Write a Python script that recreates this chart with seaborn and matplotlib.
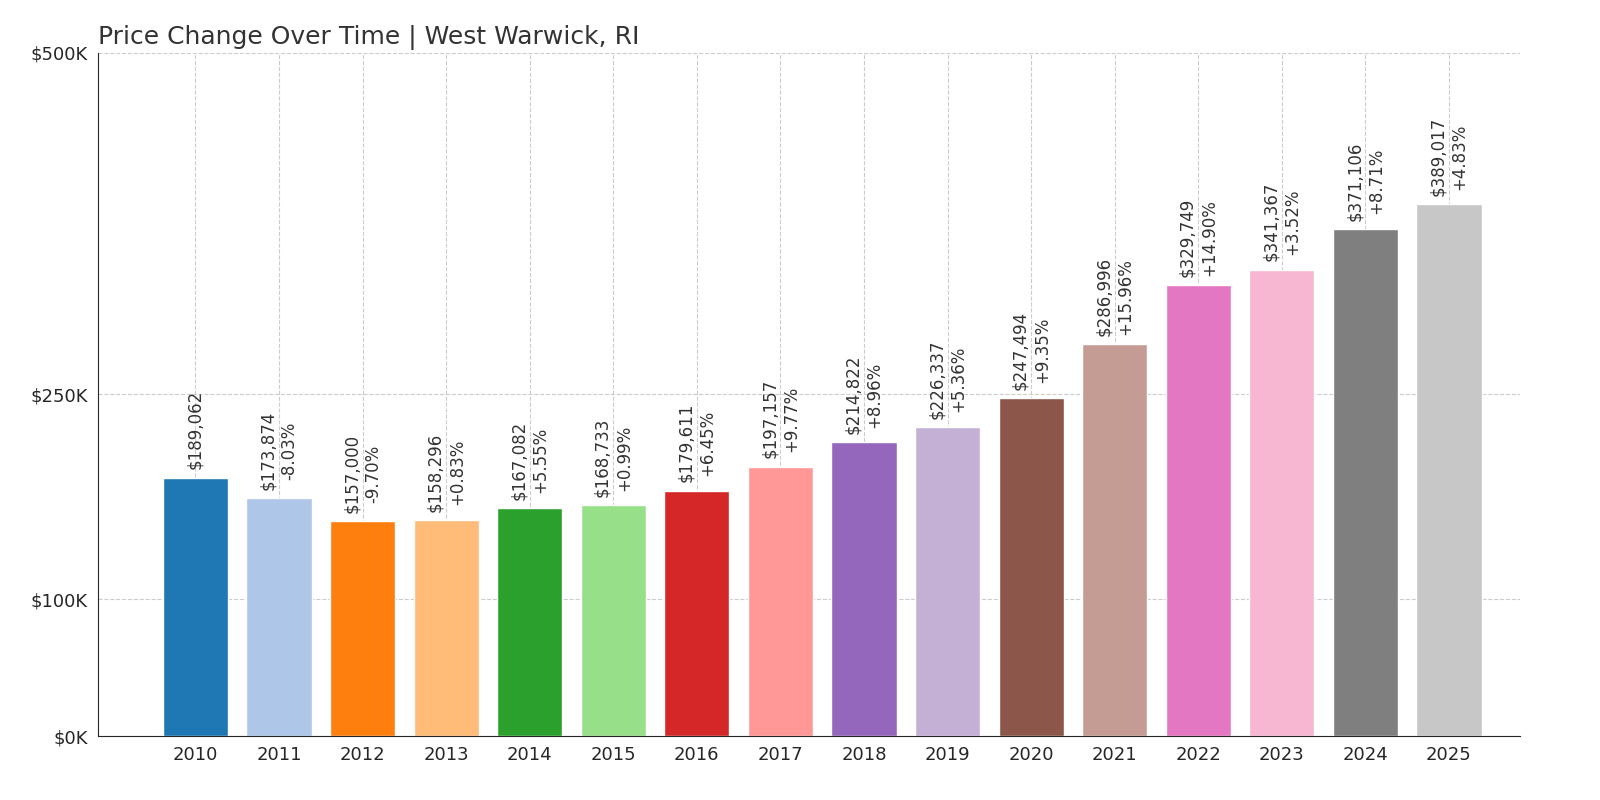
import matplotlib
matplotlib.use('Agg')
import matplotlib.pyplot as plt
import seaborn as sns
import pandas as pd

years = [str(y) for y in range(2010, 2026)]
prices = [189062, 173874, 157000, 158296, 167082, 168733, 179611, 197157,
          214822, 226337, 247494, 286996, 329749, 341367, 371106, 389017]
changes = [None, '-8.03%', '-9.70%', '+0.83%', '+5.55%', '+0.99%', '+6.45%', '+9.77%',
           '+8.96%', '+5.36%', '+9.35%', '+15.96%', '+14.90%', '+3.52%', '+8.71%', '+4.83%']

df = pd.DataFrame({'year': years, 'price': prices})

sns.set_style("white")
fig, ax = plt.subplots(figsize=(16, 8), dpi=100)
fig.subplots_adjust(left=0.061, right=0.95, top=0.934, bottom=0.08)

colors = sns.color_palette('tab20', 20)[:16]
sns.barplot(data=df, x='year', y='price', hue='year', palette=colors,
            legend=False, width=0.78, saturation=1, ax=ax)

for i, (p, c) in enumerate(zip(prices, changes)):
    label = f'${p:,}' if c is None else f'${p:,}\n{c}'
    ax.text(i, p + 6000, label, rotation=90, ha='center', va='bottom',
            fontsize=12, color='#333333', linespacing=1.25)

ax.set_ylim(0, 500000)
ax.set_xlim(-1.17, 15.85)
ax.set_yticks([0, 100000, 250000, 500000])
ax.set_yticklabels(['$0K', '$100K', '$250K', '$500K'], fontsize=13)
ax.tick_params(axis='x', labelsize=13)
ax.set_xlabel('')
ax.set_ylabel('')
ax.grid(True, linestyle='--', color='#cccccc', linewidth=0.8)
ax.set_axisbelow(True)
for s in ['top', 'right']:
    ax.spines[s].set_visible(False)
ax.set_title('Price Change Over Time | West Warwick, RI', loc='left',
             fontsize=18, color='#333333')

fig.savefig('out.png')
